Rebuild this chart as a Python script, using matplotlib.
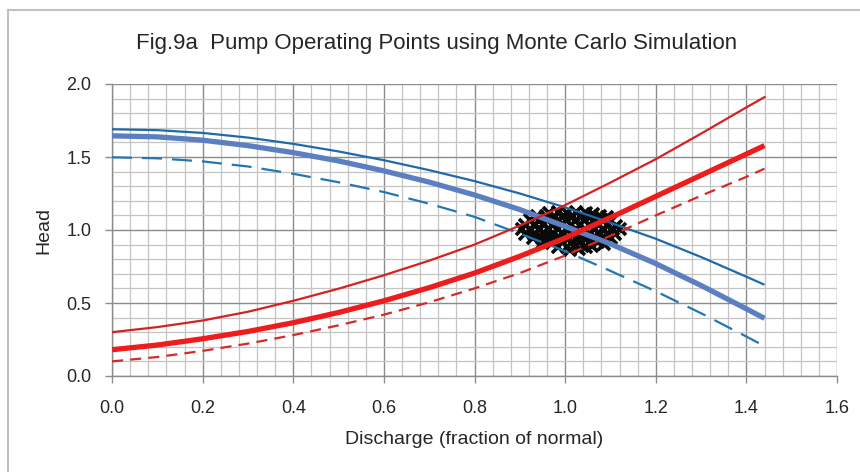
import matplotlib
matplotlib.use("Agg")
import matplotlib.pyplot as plt
from matplotlib.ticker import MultipleLocator, FormatStrFormatter
from matplotlib.lines import Line2D

# ---------------- data ----------------
discharge = [0.0, 0.1, 0.2, 0.3, 0.4, 0.5, 0.6, 0.7, 0.8, 0.9, 1.0, 1.1, 1.2, 1.3, 1.4, 1.44]

pump_high = [1.69, 1.684, 1.665, 1.633, 1.59, 1.538, 1.478, 1.41, 1.335, 1.25, 1.155, 1.05, 0.94, 0.815, 0.68, 0.625]
pump_nominal = [1.645, 1.638, 1.615, 1.578, 1.53, 1.473, 1.405, 1.328, 1.24, 1.14, 1.025, 0.905, 0.77, 0.62, 0.46, 0.395]
pump_low = [1.498, 1.491, 1.47, 1.435, 1.385, 1.327, 1.26, 1.18, 1.09, 0.975, 0.855, 0.72, 0.58, 0.43, 0.27, 0.205]

system_high = [0.30, 0.335, 0.38, 0.44, 0.515, 0.598, 0.69, 0.79, 0.90, 1.03, 1.17, 1.325, 1.485, 1.66, 1.84, 1.91]
system_nominal = [0.18, 0.212, 0.255, 0.305, 0.365, 0.435, 0.515, 0.605, 0.705, 0.82, 0.945, 1.085, 1.23, 1.375, 1.52, 1.578]
system_low = [0.10, 0.13, 0.172, 0.222, 0.28, 0.347, 0.42, 0.505, 0.60, 0.705, 0.825, 0.96, 1.10, 1.235, 1.364, 1.42]

# Monte Carlo operating points (approximate cloud)
mc_x = [0.965, 0.985, 1.005, 1.025, 1.045, 1.062,
        0.938, 0.958, 0.978, 0.998, 1.018, 1.038, 1.058, 1.078, 1.092,
        0.922, 0.942, 0.962, 0.982, 1.002, 1.022, 1.042, 1.062, 1.082, 1.102,
        0.912, 0.932, 0.952, 0.972, 0.992, 1.012, 1.032, 1.052, 1.072, 1.092, 1.112,
        0.905, 0.925, 0.945, 0.965, 0.985, 1.005, 1.025, 1.045, 1.065, 1.085, 1.105, 1.120,
        0.912, 0.932, 0.952, 0.972, 0.992, 1.012, 1.032, 1.052, 1.072, 1.092, 1.110,
        0.928, 0.948, 0.968, 0.988, 1.008, 1.028, 1.048, 1.068, 1.088, 1.102,
        0.952, 0.972, 0.992, 1.012, 1.032, 1.052, 1.072, 1.085,
        0.985, 1.005, 1.025, 1.045, 1.060,
        1.010, 1.030]
mc_y = [1.118, 1.122, 1.117, 1.123, 1.116, 1.112,
        1.095, 1.098, 1.092, 1.097, 1.094, 1.099, 1.093, 1.096, 1.090,
        1.066, 1.062, 1.068, 1.064, 1.067, 1.061, 1.066, 1.063, 1.068, 1.060,
        1.036, 1.033, 1.038, 1.034, 1.031, 1.037, 1.035, 1.032, 1.038, 1.033, 1.030,
        1.005, 1.002, 1.008, 1.004, 1.007, 1.001, 1.006, 1.003, 1.008, 1.002, 1.006, 1.010,
        0.975, 0.972, 0.978, 0.974, 0.977, 0.971, 0.976, 0.973, 0.978, 0.972, 0.976,
        0.946, 0.943, 0.948, 0.944, 0.947, 0.941, 0.946, 0.943, 0.948, 0.942,
        0.916, 0.912, 0.918, 0.914, 0.917, 0.911, 0.915, 0.905,
        0.886, 0.882, 0.888, 0.884, 0.890,
        0.866, 0.870]

title_text = "Fig.9a  Pump Operating Points using Monte Carlo Simulation"
x_label = "Discharge (fraction of normal)"
y_label = "Head"

# ---------------- figure ----------------
plt.rcParams["font.family"] = ["Liberation Sans", "DejaVu Sans"]

fig = plt.figure(figsize=(8.6, 4.72), dpi=100)
fig.patch.set_facecolor("white")

# outer light frame (left & top)
fig.add_artist(Line2D([8 / 860, 8 / 860], [0, 1 - 10 / 472], transform=fig.transFigure,
                      color="#c0c0c0", lw=1.5))
fig.add_artist(Line2D([8 / 860, 1], [1 - 10 / 472, 1 - 10 / 472], transform=fig.transFigure,
                      color="#c0c0c0", lw=1.5))

ax = fig.add_axes([112 / 860, 96 / 472, 725 / 860, 292 / 472])

ax.set_xlim(0, 1.6)
ax.set_ylim(0, 2.0)
ax.xaxis.set_major_locator(MultipleLocator(0.2))
ax.xaxis.set_minor_locator(MultipleLocator(0.04))
ax.yaxis.set_major_locator(MultipleLocator(0.5))
ax.yaxis.set_minor_locator(MultipleLocator(0.1))
ax.xaxis.set_major_formatter(FormatStrFormatter("%.1f"))
ax.yaxis.set_major_formatter(FormatStrFormatter("%.1f"))

ax.grid(which="major", color="#8c8c8c", lw=1.0, zorder=0)
ax.grid(which="minor", color="#c4c4c4", lw=0.9, zorder=0)
ax.set_axisbelow(True)

for s in ("top", "right"):
    ax.spines[s].set_visible(False)
for s in ("left", "bottom"):
    ax.spines[s].set_color("#8c8c8c")
    ax.spines[s].set_linewidth(1.0)

ax.tick_params(which="major", direction="out", length=5, width=1.0, color="#8c8c8c",
               labelsize=13, labelcolor="#262626")
ax.tick_params(axis="x", which="major", pad=12)
ax.tick_params(axis="y", which="major", pad=10)
ax.tick_params(which="minor", length=0)

# Monte Carlo cloud
ax.plot(mc_x, mc_y, linestyle="none", marker="x", markersize=8, markeredgewidth=2.6,
        color="#0a0a0a", zorder=2)

# pump curves
ax.plot(discharge, pump_high, color="#1f6aaa", lw=1.6, zorder=3, solid_capstyle="butt")
ax.plot(discharge, pump_nominal, color="#5b7fc0", lw=3.8, zorder=3, solid_capstyle="butt")
ax.plot(discharge, pump_low, color="#2576b2", lw=1.6, zorder=3, dashes=(9, 4.5))

# system curves
ax.plot(discharge, system_high, color="#d42222", lw=1.6, zorder=4)
ax.plot(discharge, system_nominal, color="#ee1c1c", lw=3.8, zorder=4, solid_capstyle="butt")
ax.plot(discharge, system_low, color="#d42a2a", lw=1.6, zorder=4, dashes=(5, 3.2))

ax.set_xlabel(x_label, fontsize=14, color="#262626", labelpad=10)
ax.set_ylabel(y_label, fontsize=14, color="#262626", labelpad=10)
fig.text(437 / 860, 1 - 43 / 472, title_text, ha="center", va="center",
         fontsize=16, color="#262626")

fig.savefig("out.png", dpi=100, facecolor="white")
